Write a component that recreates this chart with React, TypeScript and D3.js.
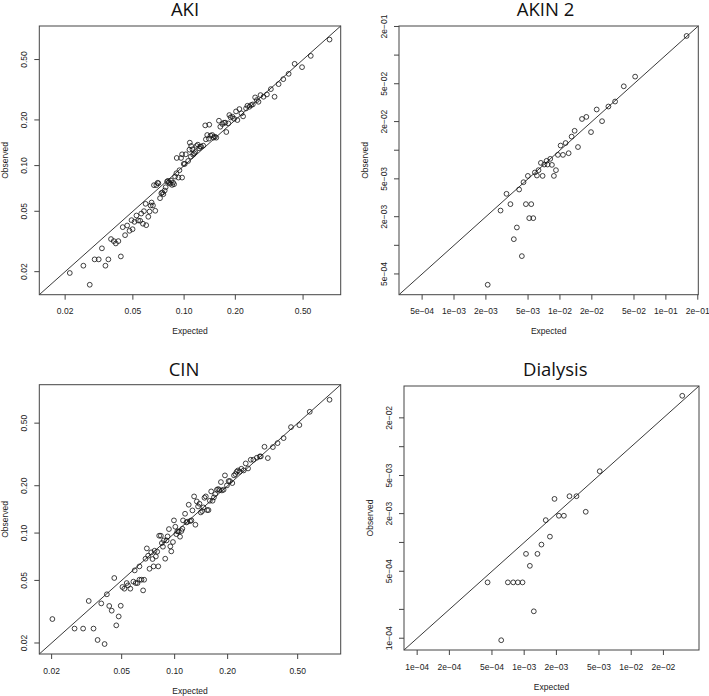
import React from "react";
import * as d3 from "d3";

// ---------- DATA ----------
const akiExpected = [0.0213,0.0256,0.0279,0.0298,0.0315,0.0329,0.0345,0.0359,0.0372,0.0386,0.0397,0.0411,0.0425,0.0436,0.0450,0.0463,0.0478,0.0498,0.0491,0.0511,0.0525,0.0537,0.0552,0.0560,0.0573,0.0581,0.0599,0.0594,0.0616,0.0627,0.0636,0.0644,0.0656,0.0677,0.0665,0.0687,0.0706,0.0699,0.0722,0.0735,0.0745,0.0755,0.0769,0.0779,0.0794,0.0804,0.0815,0.0827,0.0838,0.0850,0.0861,0.0873,0.0885,0.0901,0.0926,0.0939,0.0973,0.0905,0.0973,0.0995,0.1009,0.1023,0.1056,0.1075,0.1080,0.1100,0.1130,0.1146,0.1161,0.1183,0.1204,0.1226,0.1243,0.1260,0.1295,0.0960,0.1095,0.1120,0.1343,0.1367,0.1398,0.1430,0.1463,0.1490,0.1517,0.1545,0.1331,0.1405,0.1602,0.1632,0.1677,0.1715,0.1746,0.1770,0.1819,0.1844,0.1877,0.1920,0.1965,0.2019,0.2056,0.2113,0.2171,0.2221,0.2313,0.2355,0.2420,0.2476,0.2532,0.2614,0.2674,0.2735,0.2811,0.2928,0.3064,0.3234,0.3400,0.3591,0.3825,0.4114,0.4462,0.4931,0.5548,0.7152];
const akiObserved = [0.0196,0.0219,0.0164,0.0241,0.0241,0.0285,0.0219,0.0241,0.0328,0.0318,0.0307,0.0318,0.0252,0.0393,0.0348,0.0403,0.0372,0.0381,0.0437,0.0426,0.0469,0.0435,0.0433,0.0483,0.0414,0.0501,0.0405,0.0560,0.0460,0.0498,0.0546,0.0571,0.0546,0.0504,0.0743,0.0743,0.0765,0.0770,0.0610,0.0658,0.0665,0.0648,0.0685,0.0720,0.0785,0.0793,0.0773,0.0761,0.0797,0.0746,0.0773,0.0754,0.0847,0.0890,0.0834,0.0932,0.0834,0.1123,0.1187,0.1026,0.1026,0.1187,0.1073,0.1274,0.1416,0.1347,0.1181,0.1205,0.1230,0.1347,0.1374,0.1300,0.1333,0.1333,0.1354,0.1123,0.1146,0.1280,0.1490,0.1591,0.1505,0.1575,0.1591,0.1528,0.1551,0.1528,0.1841,0.1860,0.1976,0.1804,0.1879,0.1918,0.1918,0.1665,0.1898,0.2153,0.2079,0.2100,0.2037,0.2276,0.1996,0.2358,0.2209,0.2111,0.2382,0.2480,0.2443,0.2505,0.2530,0.2814,0.2703,0.2634,0.2915,0.2842,0.2944,0.3192,0.2842,0.3443,0.3713,0.4026,0.4685,0.4454,0.5287,0.6769];

const akin2Expected = [0.1569,0.05126,0.04005,0.03315,0.02867,0.02223,0.02498,0.01775,0.01615,0.01965,0.01376,0.01289,0.01131,0.01015,0.0148,0.01208,0.01068,0.00957,0.0081,0.00748,0.00711,0.00764,0.00661,0.0084,0.00917,0.00877,0.00628,0.0058,0.00606,0.00686,0.00498,0.00453,0.00412,0.00313,0.00341,0.00275,0.00477,0.00536,0.00513,0.0056,0.00392,0.00367,0.00437,0.00208];
const akin2Observed = [0.159,0.0594,0.047,0.0325,0.0288,0.0268,0.0202,0.0224,0.0213,0.0155,0.016,0.0139,0.0119,0.0112,0.0108,0.0093,0.00893,0.00893,0.00811,0.00773,0.00707,0.00707,0.00736,0.00701,0.00617,0.00537,0.00617,0.00583,0.00542,0.00537,0.00537,0.00461,0.00386,0.00348,0.00271,0.00232,0.00271,0.00271,0.00193,0.00193,0.00154,0.00116,0.00077,0.000385];

const cinExpected = [0.0202,0.0270,0.0302,0.0325,0.0346,0.0365,0.0383,0.0400,0.0412,0.0425,0.0439,0.0454,0.0466,0.0481,0.0494,0.0505,0.0518,0.0534,0.0543,0.0560,0.0583,0.0601,0.0615,0.0631,0.0648,0.0662,0.0671,0.0593,0.0631,0.0695,0.0683,0.0707,0.0720,0.0736,0.0749,0.0759,0.0769,0.0782,0.0796,0.0807,0.0817,0.0835,0.0846,0.0858,0.0869,0.0884,0.0900,0.0912,0.0928,0.0945,0.0957,0.0978,0.0991,0.1009,0.1022,0.1036,0.1054,0.1073,0.1092,0.1106,0.1116,0.1146,0.1166,0.1181,0.1202,0.1224,0.1245,0.1262,0.1290,0.1312,0.1336,0.1359,0.1384,0.1408,0.1433,0.1458,0.1477,0.1503,0.1530,0.1557,0.1585,0.1613,0.1642,0.1671,0.1700,0.1738,0.1768,0.1800,0.1832,0.1856,0.1897,0.1931,0.1982,0.2026,0.2062,0.2126,0.2174,0.2212,0.2251,0.2291,0.2342,0.2393,0.2468,0.2534,0.2613,0.2706,0.2803,0.2929,0.3046,0.3087,0.3239,0.3384,0.3615,0.3844,0.4159,0.4581,0.5112,0.5856,0.7586];
const cinObserved = [0.0284,0.0247,0.0247,0.0370,0.0247,0.0209,0.0357,0.0197,0.0408,0.0344,0.0321,0.0518,0.0259,0.0295,0.0345,0.0454,0.0443,0.0481,0.0465,0.0443,0.0491,0.0481,0.0481,0.0505,0.0505,0.0432,0.0505,0.0579,0.0614,0.0799,0.0687,0.0718,0.0593,0.0754,0.0684,0.0614,0.0772,0.0710,0.0761,0.0614,0.0962,0.0962,0.0864,0.0819,0.0898,0.0687,0.0898,0.0952,0.1060,0.0823,0.0765,0.0877,0.1204,0.1097,0.0985,0.1025,0.1025,0.0948,0.1030,0.1065,0.1204,0.1327,0.1169,0.1180,0.1514,0.1192,0.1204,0.1393,0.1710,0.1130,0.1589,0.1477,0.1536,0.1353,0.1380,0.1456,0.1677,0.1710,0.1400,0.1400,0.1605,0.1840,0.1605,0.1686,0.1769,0.1886,0.1905,0.1876,0.2110,0.1867,0.1886,0.2326,0.2009,0.2141,0.2141,0.2079,0.2326,0.2371,0.2454,0.2502,0.2454,0.2564,0.2502,0.2772,0.2576,0.2925,0.2925,0.3012,0.3071,0.3071,0.3538,0.2997,0.3521,0.3733,0.4016,0.4718,0.4859,0.5904,0.7040];

const dialysisExpected = [0.03,0.00508,0.00265,0.00308,0.00192,0.00376,0.00211,0.00235,0.00159,0.00174,0.00145,0.00104,0.00133,0.00113,0.000455,0.000704,0.00079,0.000873,0.000965,0.00123,0.00061];
const dialysisObserved = [0.034,0.00554,0.00304,0.00304,0.00285,0.00209,0.0019,0.0019,0.00171,0.00115,0.00095,0.00076,0.00076,0.00057,0.000383,0.000383,0.000383,0.000383,0.000383,0.000191,0.0000953];

// tick values and labels
const propTicks = [0.02, 0.05, 0.1, 0.2, 0.5];
const propTickLabels = ["0.02", "0.05", "0.10", "0.20", "0.50"];

const akin2Ticks = [5e-4, 1e-3, 2e-3, 5e-3, 1e-2, 2e-2, 5e-2, 1e-1, 2e-1];
const akin2XLabels = ["5e−04", "1e−03", "2e−03", "5e−03", "1e−02", "2e−02", "5e−02", "1e−01", "2e−01"];
const akin2YLabels = ["5e−04", "", "2e−03", "5e−03", "", "2e−02", "5e−02", "", "2e−01"];

const dialysisTicks = [1e-4, 2e-4, 5e-4, 1e-3, 2e-3, 5e-3, 1e-2, 2e-2];
const dialysisXLabels = ["1e−04", "2e−04", "5e−04", "1e−03", "2e−03", "5e−03", "1e−02", "2e−02"];
const dialysisYLabels = ["1e−04", "", "5e−04", "", "2e−03", "5e−03", "", "2e−02"];

const titles = ["AKI", "AKIN 2", "CIN", "Dialysis"];

// ---------- LAYOUT ----------
const panels = [
  { title: titles[0], ex: akiExpected, ob: akiObserved, xt: propTicks, xl: propTickLabels, yl: propTickLabels,
    left: 39.3, top: 26, right: 340.7, bottom: 294.7, tx: 185, ty: 16 },
  { title: titles[1], ex: akin2Expected, ob: akin2Observed, xt: akin2Ticks, xl: akin2XLabels, yl: akin2YLabels,
    left: 399, top: 26, right: 698.3, bottom: 294.7, tx: 545.5, ty: 16 },
  { title: titles[2], ex: cinExpected, ob: cinObserved, xt: propTicks, xl: propTickLabels, yl: propTickLabels,
    left: 39.3, top: 384.7, right: 340.7, bottom: 654, tx: 184, ty: 375.5 },
  { title: titles[3], ex: dialysisExpected, ob: dialysisObserved, xt: dialysisTicks, xl: dialysisXLabels, yl: dialysisYLabels,
    left: 404, top: 386, right: 699, bottom: 650, tx: 555.3, ty: 375.5 },
];

const FONT = "'Liberation Sans', Arial, Helvetica, sans-serif";
const INK = "#222";

function Panel({ p }: { p: any }) {
  const all = [...p.ex, ...p.ob].map((v: number) => Math.log10(v));
  const [lo, hi] = d3.extent(all) as [number, number];
  const pad = (hi - lo) * 0.04;
  const domain = [Math.pow(10, lo - pad), Math.pow(10, hi + pad)];
  const x = d3.scaleLog().domain(domain).range([p.left, p.right]);
  const y = d3.scaleLog().domain(domain).range([p.bottom, p.top]);
  const cx = (p.left + p.right) / 2;
  const cy = (p.top + p.bottom) / 2;
  const tick = 5;
  return (
    <g>
      <text x={p.tx} y={p.ty} textAnchor="middle" fontFamily="'Open Sans', sans-serif" fontSize={18.5} fill="#111">
        {p.title}
      </text>
      {/* diagonal y = x */}
      <line x1={x(domain[0])} y1={y(domain[0])} x2={x(domain[1])} y2={y(domain[1])} stroke={INK} strokeWidth={0.9} />
      {/* points */}
      {p.ex.map((e: number, i: number) => (
        <circle key={i} cx={x(e)} cy={y(p.ob[i])} r={2.4} fill="none" stroke="#111" strokeWidth={0.8} />
      ))}
      {/* box */}
      <rect x={p.left} y={p.top} width={p.right - p.left} height={p.bottom - p.top} fill="none" stroke="#444" strokeWidth={1} />
      {/* x axis */}
      {p.xt.map((t: number, i: number) => (
        <g key={"x" + i}>
          <line x1={x(t)} x2={x(t)} y1={p.bottom} y2={p.bottom + tick} stroke="#444" strokeWidth={1} />
          <text x={x(t)} y={p.bottom + 19.5} textAnchor="middle" fontFamily={FONT} fontSize={8.5} fill={INK}>
            {p.xl[i]}
          </text>
        </g>
      ))}
      {/* y axis */}
      {p.xt.map((t: number, i: number) => (
        <g key={"y" + i}>
          <line x1={p.left - tick} x2={p.left} y1={y(t)} y2={y(t)} stroke="#444" strokeWidth={1} />
          {p.yl[i] ? (
            <text transform={`translate(${p.left - 12},${y(t)}) rotate(-90)`} textAnchor="middle"
              fontFamily={FONT} fontSize={8.5} fill={INK}>
              {p.yl[i]}
            </text>
          ) : null}
        </g>
      ))}
      <text x={cx} y={p.bottom + 39.5} textAnchor="middle" fontFamily={FONT} fontSize={8.5} fill={INK}>
        Expected
      </text>
      <text transform={`translate(${p.left - 31.5},${cy}) rotate(-90)`} textAnchor="middle"
        fontFamily={FONT} fontSize={8.5} fill={INK}>
        Observed
      </text>
    </g>
  );
}

export default function App() {
  return (
    <svg width={709} height={696} style={{ position: "absolute", left: 0, top: 0, background: "#fff" }}>
      <rect x={0} y={0} width={709} height={696} fill="#fff" />
      {panels.map((p, i) => (
        <Panel key={i} p={p} />
      ))}
    </svg>
  );
}
